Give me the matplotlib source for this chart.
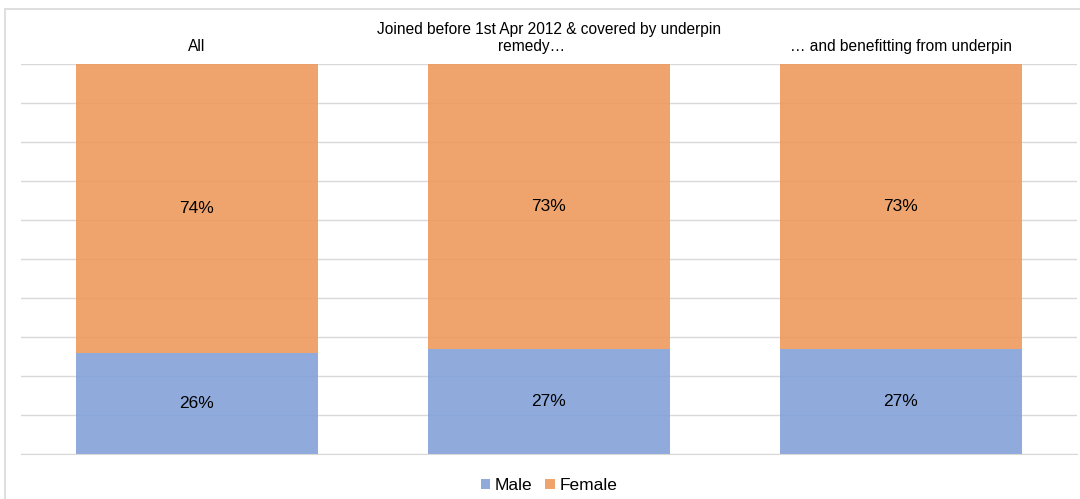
import matplotlib.pyplot as plt
import numpy as np

plt.rcParams['font.family'] = ['Liberation Sans', 'DejaVu Sans']

# share of members by sex, percent
groups = ['All', 'Joined before 1st Apr 2012 & covered by underpin\nremedy…        ',
          '… and benefitting from underpin']
male = [26, 27, 27]
female = [74, 73, 73]

blue = '#83A1D8'
orange = '#EE9A5E'
grid_c = '#D9D9D9'

fig = plt.figure(figsize=(10.8, 4.99), dpi=100)
ax = fig.add_axes([21/1080, 45/499, 1056/1080, 390/499])

x = np.arange(len(groups))
w = 0.685
ax.bar(x, male, w, color=blue, alpha=0.9, label='Male', zorder=2)
ax.bar(x, female, w, bottom=male, color=orange, alpha=0.9, label='Female', zorder=2)

for i in range(len(groups)):
    ax.text(x[i], male[i] / 2, f'{male[i]}%', ha='center', va='center', fontsize=12.5, zorder=3)
    ax.text(x[i], male[i] + female[i] / 2, f'{female[i]}%', ha='center', va='center', fontsize=12.5, zorder=3)

ax.set_xlim(-0.5, 2.5)
ax.set_ylim(0, 100)
ax.set_yticks(np.arange(0, 101, 10))
ax.yaxis.grid(True, color=grid_c, lw=1, zorder=0)
ax.set_yticklabels([])
ax.tick_params(axis='y', length=0)

ax.xaxis.tick_top()
ax.set_xticks(x)
ax.set_xticklabels(groups, fontsize=11.2, color='#000000', linespacing=1.2)
ax.tick_params(axis='x', length=0, pad=7)

for s in ['top', 'left', 'right']:
    ax.spines[s].set_visible(False)
ax.spines['bottom'].set_color(grid_c)

ax.legend(loc='lower center', bbox_to_anchor=(0.5, -0.14), ncol=2, frameon=False,
          fontsize=12.5, handlelength=0.55, handleheight=0.55, handletextpad=0.25,
          columnspacing=0.75)

# light frame round the figure
fig.patches.append(plt.Rectangle((5/1080, -0.01), 1.1, 1 - 9/499 + 0.01, transform=fig.transFigure,
                                 fill=False, edgecolor=grid_c, lw=1.2))

fig.savefig('out.png', dpi=100)
